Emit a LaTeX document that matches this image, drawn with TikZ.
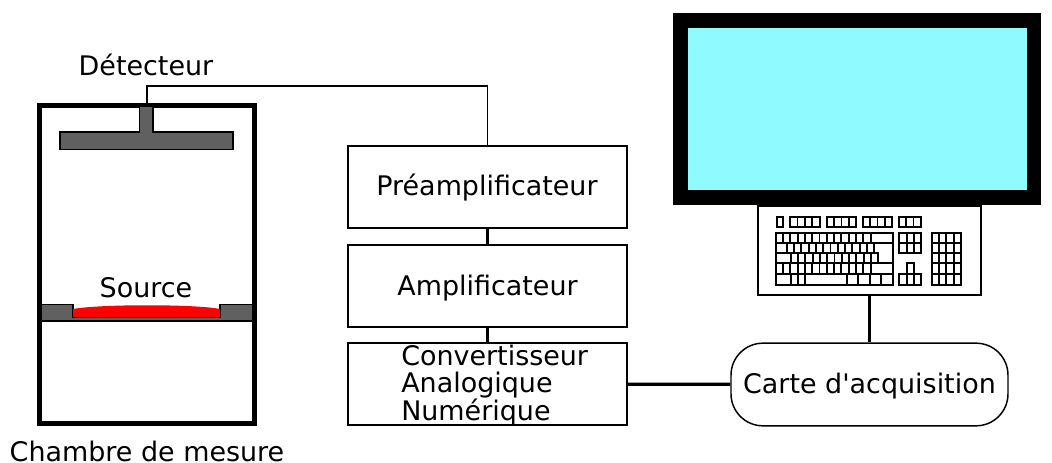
\documentclass[tikz,border=0pt]{standalone}
\usepackage{fontspec}
\newfontfamily\djvfont{DejaVu Sans}
\definecolor{scr}{HTML}{8FFAFF}
\definecolor{gr}{HTML}{606060}
\tikzset{x=0.75pt,y=-0.75pt,
 blk/.style={draw=black,line width=1.1pt,fill=white,minimum width=209.25pt,minimum height=61.5pt,inner sep=0pt},
 lbl/.style={inner sep=0pt,anchor=base,font=\djvfont\fontsize{20.2}{22}\selectfont},
 wire/.style={draw=black,line width=1.2pt},
 link/.style={draw=black,line width=1.7pt},
 thick wire/.style={draw=black,line width=2.5pt},
 keyl/.style={draw=black,line width=1.4pt},
 grayshape/.style={draw=black,line width=0.9pt,fill=gr}}
\begin{document}
\begin{tikzpicture}
\useasboundingbox (0,0) rectangle (1052,463);
% chamber
\node[draw=black,line width=3.8pt,minimum width=161pt,minimum height=238pt,inner sep=0pt] (chamber) at (147,264.5) {};
\filldraw[grayshape] (60,132) -- (139.5,132) -- (139.5,106) -- (153,106) -- (153,132) -- (233,132) -- (233,149.5) -- (60,149.5) -- cycle;
\filldraw[grayshape] (41,304.5) -- (73,304.5) -- (73,317) -- (220,317) -- (220,304.5) -- (253,304.5) -- (253,321) -- (41,321) -- cycle;
\draw[line width=1.5pt] (41,321) -- (253,321);
\fill[red] (73,317) -- (73,309) .. controls (100,304) and (195,304) .. (220,309) -- (220,317) -- cycle;
\node[lbl] (source) at (146,297) {Source};
\node[lbl] (det) at (146,76) {Détecteur};
\node[lbl] (cham) at (147,461.5) {Chambre de mesure};
% blocks
\node[blk] (pre) at (487.5,187) {};
\node[blk] (amp) at (487.5,286) {};
\node[blk] (conv) at (487.5,384) {};
\node[lbl] (pretxt) at (487,196) {Préamplificateur};
\node[lbl] (amptxt) at (487.5,295) {Amplificateur};
\node[lbl,anchor=base west] (c1) at (401,365) {Convertisseur};
\node[lbl,anchor=base west] (c2) at (401,392) {Analogique};
\node[lbl,anchor=base west] (c3) at (401,420) {Numérique};
\node[blk,rounded corners=24pt,minimum width=207.75pt,minimum height=62pt] (carte) at (869.5,384.5) {};
\node[lbl] (cartetxt) at (869.5,393) {Carte d'acquisition};
\coordinate (dt) at (147,105);
\draw[wire] (dt) |- (487.5,86) -- (pre.north);
\draw[link] (pre) -- (amp);
\draw[link] (amp) -- (conv);
\draw[thick wire] (conv) -- (carte);
% screen
\node[draw=none,fill=black,minimum width=276pt,minimum height=144pt,inner sep=0pt] (screen) at (857,109) {};
\node[draw=none,fill=scr,minimum width=254.25pt,minimum height=121.5pt,inner sep=0pt] (display) at (857,109) {};
% keyboard
\node[draw=black,line width=0.9pt,fill=white,minimum width=167.25pt,minimum height=66.75pt,inner sep=0pt] (kbd) at (869.5,250.5) {};
\draw[thick wire] (kbd) -- (carte);
\begin{scope}[shift={(750,200)},x=0.25pt,y=-0.25pt,keyl]
 % function row
 \draw (80,50) rectangle (100,80);
 \foreach \a/\n in {120/4,230/4,338/4,446/3}{
  \pgfmathsetmacro\xe{\a+22.3*\n}
  \draw (\a,50) rectangle (\xe,80);
  \foreach \i in {1,...,\n}{\pgfmathsetmacro\xi{\a+22.3*\i}\draw (\xi,50)--(\xi,80);}
 }
 % main block
 \draw (78,100) rectangle (428,255);
 \foreach \y in {130,222}{\draw (78,\y)--(428,\y);}
 \draw (78,160)--(375,160);
 \draw (78,190)--(428,190);
 \foreach \i in {0,...,12}{\pgfmathsetmacro\xi{99+21.9*\i}\draw (\xi,100)--(\xi,130);\draw (\xi,190)--(\xi,222);}
 \foreach \i in {0,...,12}{\pgfmathsetmacro\xi{110+21.9*\i}\draw (\xi,130)--(\xi,160);}
 \foreach \i in {0,...,12}{\pgfmathsetmacro\xi{122+21.9*\i}\draw (\xi,160)--(\xi,190);}
 \draw (375,160)--(385,160)--(385,190);
 \foreach \x in {122,144,166,290,325,360,392}{\draw (\x,222)--(\x,255);}
 % nav
 \draw (448,100) rectangle (514,160);
 \draw (448,130)--(514,130);
 \foreach \x in {470,492}{\draw (\x,100)--(\x,160);}
 \draw (470,190) rectangle (492,222);
 \draw (448,222) rectangle (514,255);
 \foreach \x in {470,492}{\draw (\x,222)--(\x,255);}
 % numpad
 \draw (545,100) rectangle (632,255);
 \foreach \y in {130,160,190,222}{\draw (545,\y)--(632,\y);}
 \foreach \x in {567,589,611}{\draw (\x,100)--(\x,255);}
\end{scope}
\end{tikzpicture}
\end{document}
